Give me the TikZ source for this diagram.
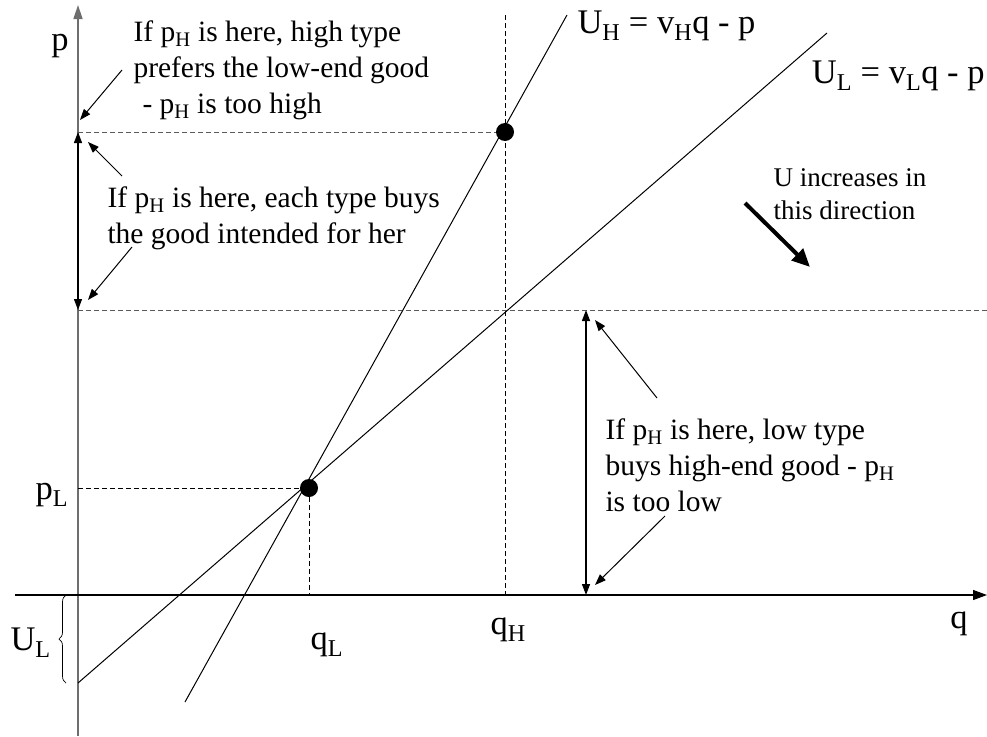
\documentclass[tikz,border=0pt]{standalone}
\usepackage{fontspec}
\setmainfont{Liberation Serif}
\usetikzlibrary{arrows.meta,decorations.pathreplacing}
\definecolor{axisc}{HTML}{6E6E6E}
\definecolor{guidec}{HTML}{5A5A5A}
\newcommand{\subH}{\textsubscript{H}}
\newcommand{\subL}{\textsubscript{L}}

\begin{document}
\begin{tikzpicture}[x=1pt, y=-1pt, line width=1pt,
  note/.style={align=left, inner sep=0pt, font=\fontsize{29.5}{36}\selectfont},
  dirnote/.style={align=left, inner sep=0pt, font=\fontsize{27}{33}\selectfont},
  biglbl/.style={inner sep=0pt, font=\fontsize{34.5}{40}\selectfont},
  dot/.style={circle, fill=black, inner sep=0pt, minimum size=18pt},
  guide/.style={dash pattern=on 5pt off 3pt, line width=1pt},
  tip/.style={-{Triangle[length=11pt,width=8pt]}},
  twotip/.style={{Triangle[length=11pt,width=8pt]}-{Triangle[length=11pt,width=8pt]}, line width=1.3pt}]
  \useasboundingbox (0,0) rectangle (987,736);

  % axes
  \coordinate (ybot) at (78,736);  \coordinate (ytop) at (78,5);
  \coordinate (xleft) at (15,595); \coordinate (xright) at (987,595);
  \draw[axisc, line width=1.5pt, -{Triangle[length=14pt,width=9pt]}] (ybot) -- (ytop);
  \draw[line width=1.2pt, -{Triangle[length=14pt,width=10pt]}] (xleft) -- (xright);
  \node[biglbl, anchor=base] (plbl) at (60,50) {p};
  \node[biglbl, anchor=base] (qlbl) at (959,628) {q};

  % guide lines
  \coordinate (eqH) at (505,132);  \coordinate (eqL) at (309,488);
  \coordinate (pHax) at (78,132);  \coordinate (midax) at (78,310);
  \coordinate (pLax) at (78,488);  \coordinate (midend) at (987,310);
  \coordinate (qLax) at (309,595); \coordinate (qHax) at (505,595);
  \coordinate (qHtop) at (505,15);
  \draw[guide, guidec] (pHax) -- (eqH);
  \draw[guide, guidec] (midax) -- (midend);
  \draw[guide] (qHtop) -- (qHax);
  \draw[guide] (pLax) -- (eqL) -- (qLax);
  \node[biglbl, anchor=base west] (pLlbl) at (35,499) {p\subL};
  \node[biglbl, anchor=base west] (qLlbl) at (310,649) {q\subL};
  \node[biglbl, anchor=base west] (qHlbl) at (490,634) {q\subH};

  % utility lines
  \coordinate (UHlo) at (185,702); \coordinate (UHhi) at (567,15);
  \coordinate (ULlo) at (78,683);  \coordinate (ULhi) at (827,33);
  \draw (UHlo) -- (UHhi);
  \draw (ULlo) -- (ULhi);
  \node[biglbl, anchor=base west] (UHeq) at (577,33) {U\subH{} = v\subH{}q - p};
  \node[biglbl, anchor=base east] (ULeq) at (985,83) {U\subL{} = v\subL{}q - p};

  % intercept brace
  \draw[decorate, decoration={brace, amplitude=7pt}, line width=0.7pt] (ULlo) ++(-12,0) -- (66,595);
  \node[biglbl, anchor=base west] (ULlbl) at (10,650) {U\subL};

  % price ranges
  \coordinate (lowtop) at (586,310); \coordinate (lowbot) at (586,595);
  \draw[twotip] (pHax) -- (midax);
  \draw[twotip] (lowtop) -- (lowbot);

  % notes
  \node[note, anchor=west] (note1) at (133,70)
    {If p\subH{} is here, high type\\prefers the low-end good\\\hspace*{9pt}- p\subH{} is too high};
  \node[note, anchor=west] (note2) at (107,218)
    {If p\subH{} is here, each type buys\\the good intended for her};
  \node[note, anchor=west] (note3) at (605,465)
    {If p\subH{} is here, low type\\buys high-end good - p\subH\\is too low};
  \node[dirnote, anchor=west] (noteU) at (773,194) {U increases in\\this direction};

  \coordinate (n1a) at (122,70);  \coordinate (n1b) at (80,120);
  \coordinate (n2a) at (122,176); \coordinate (n2b) at (88,142);
  \coordinate (n2c) at (132,247); \coordinate (n2d) at (88,300);
  \coordinate (n3a) at (657,398); \coordinate (n3b) at (595,320);
  \coordinate (n3c) at (665,516); \coordinate (n3d) at (595,585);
  \draw[tip] (n1a) -- (n1b);
  \draw[tip] (n2a) -- (n2b);
  \draw[tip] (n2c) -- (n2d);
  \draw[tip] (n3a) -- (n3b);
  \draw[tip] (n3c) -- (n3d);

  % direction of increasing U
  \coordinate (dirA) at (745,203); \coordinate (dirB) at (810,267);
  \draw[line width=4pt, -{Triangle[length=18pt,width=16pt]}] (dirA) -- (dirB);

  % equilibrium points
  \node[dot] (dotH) at (eqH) {};
  \node[dot] (dotL) at (eqL) {};
\end{tikzpicture}
\end{document}
